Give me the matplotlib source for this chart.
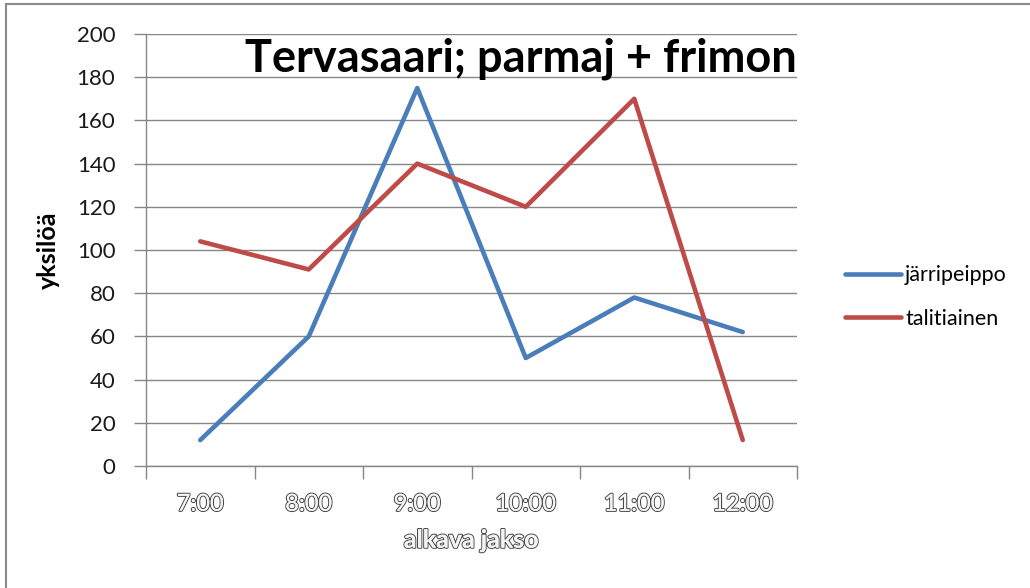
import matplotlib
matplotlib.use('Agg')
import matplotlib.pyplot as plt
import matplotlib.patheffects as pe
from matplotlib.patches import Rectangle
from matplotlib.ticker import FixedLocator

# 数据
hours = ['7:00', '8:00', '9:00', '10:00', '11:00', '12:00']
jarripeippo = [12, 60, 175, 50, 78, 62]
talitiainen = [104, 91, 140, 120, 170, 12]
y_ticks = [0, 20, 40, 60, 80, 100, 120, 140, 160, 180, 200]

plt.rcParams['font.family'] = ['Lato', 'DejaVu Sans']

W, H = 1030, 588
fig = plt.figure(figsize=(W / 100, H / 100), dpi=100)
ax = fig.add_axes([146 / W, 1 - 466 / H, 651 / W, 432 / H])

grid_col = '#868686'
x = list(range(len(hours)))
ax.plot(x, jarripeippo, color='#4A7EBB', linewidth=3.3, label='järripeippo',
        solid_capstyle='round', solid_joinstyle='round')
ax.plot(x, talitiainen, color='#BE4B48', linewidth=3.3, label='talitiainen',
        solid_capstyle='round', solid_joinstyle='round')

ax.set_xlim(-0.5, len(hours) - 0.5)
ax.set_ylim(0, 200)
ax.set_yticks(y_ticks)
ax.set_xticks(x)
ax.set_xticklabels(hours)
ax.xaxis.set_minor_locator(FixedLocator([i - 0.5 for i in range(len(hours) + 1)]))
ax.tick_params(axis='x', which='major', length=0, pad=20, labelsize=17,
               labelcolor='#f4f4f4')
ax.tick_params(axis='x', which='minor', length=9, color=grid_col, width=1)
ax.tick_params(axis='y', length=9, color=grid_col, width=1, pad=13,
               labelsize=16, labelcolor='#1a1a1a')
for lab in ax.get_xticklabels():
    lab.set_path_effects([pe.withStroke(linewidth=1.6, foreground='#4a4a4a'),
                          pe.Normal()])

ax.grid(axis='y', color=grid_col, linewidth=1)
ax.set_axisbelow(True)
for s in ['top', 'right']:
    ax.spines[s].set_visible(False)
for s in ['left', 'bottom']:
    ax.spines[s].set_color(grid_col)
    ax.spines[s].set_linewidth(1)

ax.set_ylabel('yksilöä', fontsize=18, fontweight='bold', labelpad=12)
xl = ax.set_xlabel('alkava jakso', fontsize=18, fontweight='bold',
                   color='#f4f4f4', labelpad=10)
xl.set_path_effects([pe.withStroke(linewidth=1.6, foreground='#4a4a4a'),
                     pe.Normal()])

fig.text(797 / W, 1 - 72 / H, 'Tervasaari; parmaj + frimon', ha='right',
         va='baseline', fontsize=32.5, fontweight='bold', color='black')

ax.legend(loc='center left', bbox_to_anchor=(834 / W, 1 - 297 / H),
          bbox_transform=fig.transFigure, frameon=False, fontsize=15.5,
          handlelength=2.6, handletextpad=0.2, labelspacing=1.1,
          borderpad=0)

# 外边框
fig.patches.append(Rectangle((6 / W, -0.1), 1.2, 1.1 - 4 / H,
                             transform=fig.transFigure, fill=False,
                             edgecolor='#8a8a8a', linewidth=1.5))

fig.savefig('out.png', dpi=100)
